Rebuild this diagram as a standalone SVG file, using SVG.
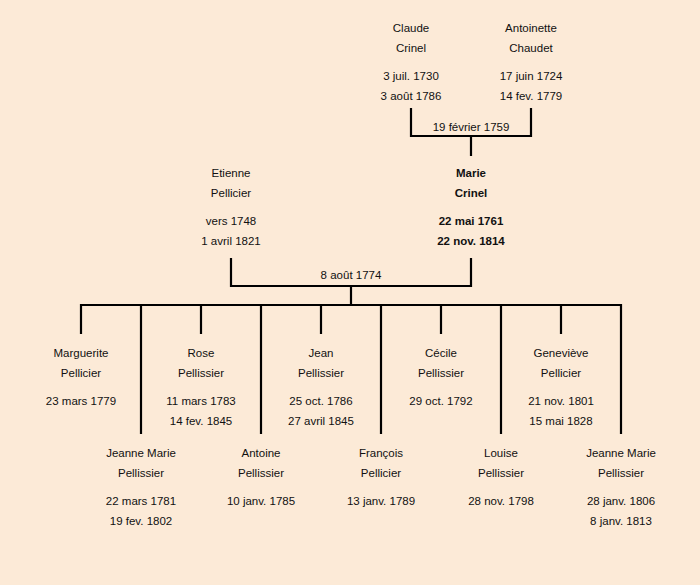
<svg xmlns="http://www.w3.org/2000/svg" width="700" height="585" viewBox="0 0 700 585">
<style>
text{font-family:"Liberation Sans","DejaVu Sans",sans-serif;font-size:11.5px;fill:#111;text-anchor:middle}
.b{font-weight:bold}
.ln{stroke:#000;stroke-width:2.2;fill:none;stroke-linecap:square}
</style>
<rect width="700" height="585" fill="#FCEAD7"/>
<g id="connectors" class="ln">
<path d="M411,109 V136 H531 V109 M471,136 V155"/>
<path d="M231,259 V286 H471 V259 M351,286 V305"/>
<path d="M81,333 V305 H621 V433"/>
<path d="M141,305 V433 M261,305 V433 M381,305 V433 M501,305 V433"/>
<path d="M201,305 V333 M321,305 V333 M441,305 V333 M561,305 V333"/>
</g>
<g id="labels">
<text x="471" y="131">19 février 1759</text>
<text x="351" y="279">8 août 1774</text>
</g>
<g id="claude"><text x="411" y="32">Claude</text><text x="411" y="52">Crinel</text><text x="411" y="80">3 juil. 1730</text><text x="411" y="100">3 août 1786</text></g>
<g id="antoinette"><text x="531" y="32">Antoinette</text><text x="531" y="52">Chaudet</text><text x="531" y="80">17 juin 1724</text><text x="531" y="100">14 fev. 1779</text></g>
<g id="etienne"><text x="231" y="177">Etienne</text><text x="231" y="197">Pellicier</text><text x="231" y="225">vers 1748</text><text x="231" y="245">1 avril 1821</text></g>
<g id="marie" class="b"><text class="b" x="471" y="177">Marie</text><text class="b" x="471" y="197">Crinel</text><text class="b" x="471" y="225">22 mai 1761</text><text class="b" x="471" y="245">22 nov. 1814</text></g>
<g id="marguerite"><text x="81" y="357">Marguerite</text><text x="81" y="377">Pellicier</text><text x="81" y="405">23 mars 1779</text></g>
<g id="rose"><text x="201" y="357">Rose</text><text x="201" y="377">Pellissier</text><text x="201" y="405">11 mars 1783</text><text x="201" y="425">14 fev. 1845</text></g>
<g id="jean"><text x="321" y="357">Jean</text><text x="321" y="377">Pellissier</text><text x="321" y="405">25 oct. 1786</text><text x="321" y="425">27 avril 1845</text></g>
<g id="cecile"><text x="441" y="357">Cécile</text><text x="441" y="377">Pellissier</text><text x="441" y="405">29 oct. 1792</text></g>
<g id="genevieve"><text x="561" y="357">Geneviève</text><text x="561" y="377">Pellicier</text><text x="561" y="405">21 nov. 1801</text><text x="561" y="425">15 mai 1828</text></g>
<g id="jeanne1"><text x="141" y="457">Jeanne Marie</text><text x="141" y="477">Pellissier</text><text x="141" y="505">22 mars 1781</text><text x="141" y="525">19 fev. 1802</text></g>
<g id="antoine"><text x="261" y="457">Antoine</text><text x="261" y="477">Pellissier</text><text x="261" y="505">10 janv. 1785</text></g>
<g id="francois"><text x="381" y="457">François</text><text x="381" y="477">Pellicier</text><text x="381" y="505">13 janv. 1789</text></g>
<g id="louise"><text x="501" y="457">Louise</text><text x="501" y="477">Pellissier</text><text x="501" y="505">28 nov. 1798</text></g>
<g id="jeanne2"><text x="621" y="457">Jeanne Marie</text><text x="621" y="477">Pellissier</text><text x="621" y="505">28 janv. 1806</text><text x="621" y="525">8 janv. 1813</text></g>
</svg>
